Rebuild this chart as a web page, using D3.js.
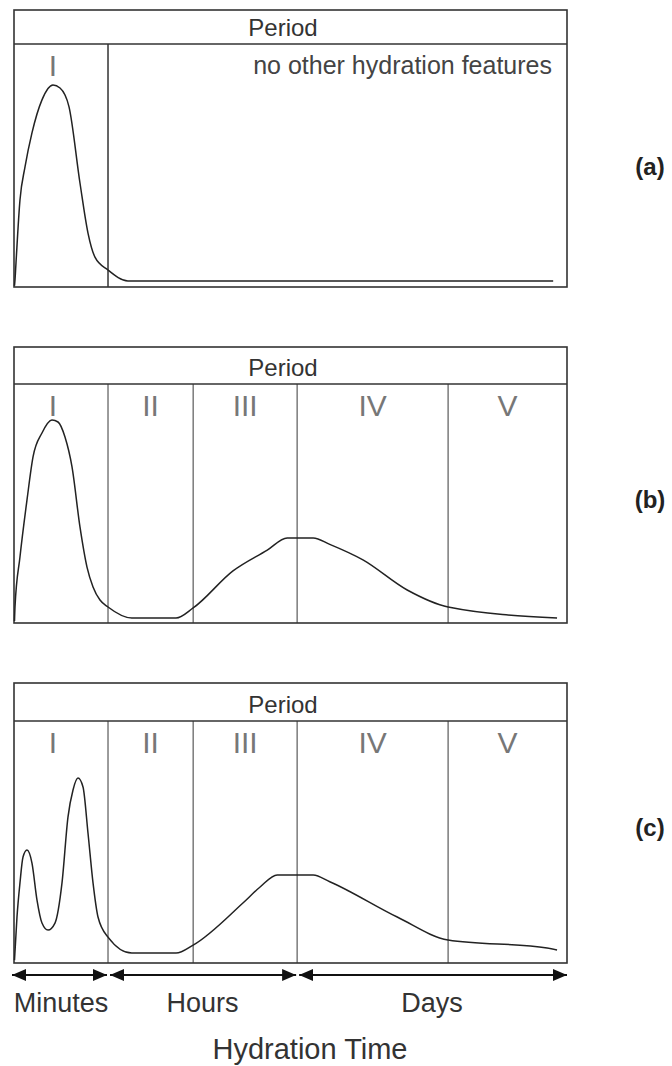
<!DOCTYPE html>
<html>
<head>
<meta charset="utf-8">
<script src="https://cdn.jsdelivr.net/npm/d3@7"></script>
<style>
  body { margin: 0; background: #fff; }
  text { font-family: "Liberation Sans", Arial, sans-serif; }
</style>
</head>
<body>
<div id="vis"></div>
<script>
// period names and where they start / end on the (relative) time axis
const periods = ["I", "II", "III", "IV", "V"];
const periodBounds = [0, 17, 32.4, 51.2, 78.5, 100];

const timeUnits = ["Minutes", "Hours", "Days"];
const timeBounds = [0, 17, 51.2, 100];

const panelNames = ["(a)", "(b)", "(c)"];

// heat flow curves (t = relative time, q = relative heat flow)
const aTime = [0.09, 0.18, 0.36, 1.08, 1.99, 3.25, 5.06, 7.05, 8.32, 9.95, 11.93, 13.38, 14.64, 17.0, 20.6, 97.5];
const aHeat = [0.5, 2.9, 9.9, 35.8, 49.4, 63.4, 77.0, 83.1, 81.9, 74.1, 42.8, 22.2, 12.3, 7.0, 2.5, 2.5];

const bTime = [0.09, 0.18, 1.08, 2.35, 3.44, 5.06, 6.87, 7.96, 9.22, 10.49, 11.93, 13.2, 14.29, 15.55, 17.0, 21.3, 29.3, 32.4, 39.6, 45.8, 49.4, 54.1, 57.1, 63.1, 71.1, 78.5, 98.2];
const bHeat = [0.8, 6.7, 27.6, 51.5, 69.5, 79.5, 84.9, 84.1, 77.8, 65.3, 40.2, 23.4, 15.1, 9.6, 6.7, 2.1, 2.1, 6.3, 21.8, 30.5, 35.6, 35.6, 32.9, 26.4, 13.8, 6.7, 2.1];

const cTime = [0.09, 0.54, 1.08, 1.63, 2.35, 3.25, 4.16, 5.06, 6.15, 7.41, 8.68, 9.76, 10.67, 11.57, 12.48, 13.38, 14.29, 15.19, 17.0, 21.3, 29.3, 32.4, 41.4, 44.5, 47.6, 54.1, 57.1, 69.3, 78.5, 96.4, 98.2];
const cHeat = [1.2, 19.0, 33.1, 43.8, 46.7, 41.3, 26.0, 16.5, 13.6, 16.5, 33.1, 60.3, 71.5, 76.4, 72.7, 53.7, 33.1, 19.0, 10.7, 4.1, 4.1, 7.4, 24.8, 31.4, 36.4, 36.4, 33.6, 19.0, 9.5, 6.2, 5.4];

const W = 672, H = 1066;
const svg = d3.select("#vis").append("svg")
    .attr("width", W)
    .attr("height", H);

const x = d3.scaleLinear().domain([0, 100]).range([14, 567]);

// vertical layout of the three panels
const panels = [
    { top: 10, head: 44, bottom: 287, nameY: 167, t: aTime, q: aHeat, full: false },
    { top: 347, head: 384, bottom: 623, nameY: 500, t: bTime, q: bHeat, full: true },
    { top: 683, head: 721, bottom: 963, nameY: 828, t: cTime, q: cHeat, full: true }
];

panels.forEach(function (p, i) {
    const g = svg.append("g");
    const y = d3.scaleLinear().domain([0, 100]).range([p.bottom, p.head]);

    // period dividers
    const shown = p.full ? periodBounds.slice(1, -1) : [periodBounds[1]];
    g.selectAll(".div")
        .data(shown)
        .enter().append("line")
        .attr("x1", d => x(d)).attr("x2", d => x(d))
        .attr("y1", p.head).attr("y2", p.bottom)
        .attr("stroke", p.full ? "#666" : "#333")
        .attr("stroke-width", p.full ? 1.3 : 1.5);

    // outer box + header line
    g.append("rect")
        .attr("x", x(0)).attr("y", p.top)
        .attr("width", x(100) - x(0)).attr("height", p.bottom - p.top)
        .attr("fill", "none").attr("stroke", "#333").attr("stroke-width", 1.6);
    g.append("line")
        .attr("x1", x(0)).attr("x2", x(100))
        .attr("y1", p.head).attr("y2", p.head)
        .attr("stroke", "#333").attr("stroke-width", 1.6);

    g.append("text")
        .attr("x", 283).attr("y", p.head - 8)
        .attr("text-anchor", "middle")
        .attr("font-size", 24)
        .attr("fill", "#333")
        .text("Period");

    // period numerals
    const labels = p.full ? periods : periods.slice(0, 1);
    g.selectAll(".num")
        .data(labels)
        .enter().append("text")
        .attr("x", (d, j) => x((periodBounds[j] + periodBounds[j + 1]) / 2) - (j === 0 ? 8 : 0))
        .attr("y", p.head + 32)
        .attr("text-anchor", "middle")
        .attr("font-family", "'DejaVu Sans', sans-serif")
        .attr("font-weight", 200)
        .attr("font-size", 30)
        .attr("fill", "#777")
        .text(d => d);

    if (!p.full) {
        g.append("text")
            .attr("x", 552).attr("y", p.head + 30)
            .attr("text-anchor", "end")
            .attr("font-size", 25)
            .attr("fill", "#444")
            .text("no other hydration features");
    }

    const line = d3.line()
        .x(d => x(d[0]))
        .y(d => y(d[1]))
        .curve(d3.curveMonotoneX);

    g.append("path")
        .datum(d3.zip(p.t, p.q))
        .attr("d", line)
        .attr("fill", "none")
        .attr("stroke", "#222")
        .attr("stroke-width", 1.5);

    svg.append("text")
        .attr("x", 650).attr("y", p.nameY + 8)
        .attr("text-anchor", "middle")
        .attr("font-size", 24)
        .attr("font-weight", "bold")
        .attr("fill", "#222")
        .text(panelNames[i]);
});

// time scale arrows under the last panel
const defs = svg.append("defs");
["start", "end"].forEach(function (k) {
    defs.append("marker")
        .attr("id", "arrow-" + k)
        .attr("viewBox", "0 0 14 12")
        .attr("refX", k === "end" ? 14 : 0).attr("refY", 6)
        .attr("markerWidth", 14).attr("markerHeight", 12)
        .attr("markerUnits", "userSpaceOnUse")
        .attr("orient", "auto")
        .append("path")
        .attr("d", k === "end" ? "M0,0L14,6L0,12Z" : "M14,0L0,6L14,12Z")
        .attr("fill", "#111");
});

const arrowY = 975;
const axis = svg.append("g");
axis.selectAll("line")
    .data(timeUnits)
    .enter().append("line")
    .attr("x1", (d, j) => x(timeBounds[j]) + (j === 0 ? -2 : 2))
    .attr("x2", (d, j) => x(timeBounds[j + 1]) - (j === 2 ? 0 : 1))
    .attr("y1", arrowY).attr("y2", arrowY)
    .attr("stroke", "#111").attr("stroke-width", 2)
    .attr("marker-start", "url(#arrow-start)")
    .attr("marker-end", "url(#arrow-end)");

axis.selectAll("text")
    .data(timeUnits)
    .enter().append("text")
    .attr("x", (d, j) => x((timeBounds[j] + timeBounds[j + 1]) / 2))
    .attr("y", 1012)
    .attr("text-anchor", "middle")
    .attr("font-size", 27)
    .attr("fill", "#333")
    .text(d => d);

svg.append("text")
    .attr("x", 310).attr("y", 1059)
    .attr("text-anchor", "middle")
    .attr("font-size", 29)
    .attr("fill", "#333")
    .text("Hydration Time");
</script>
</body>
</html>
